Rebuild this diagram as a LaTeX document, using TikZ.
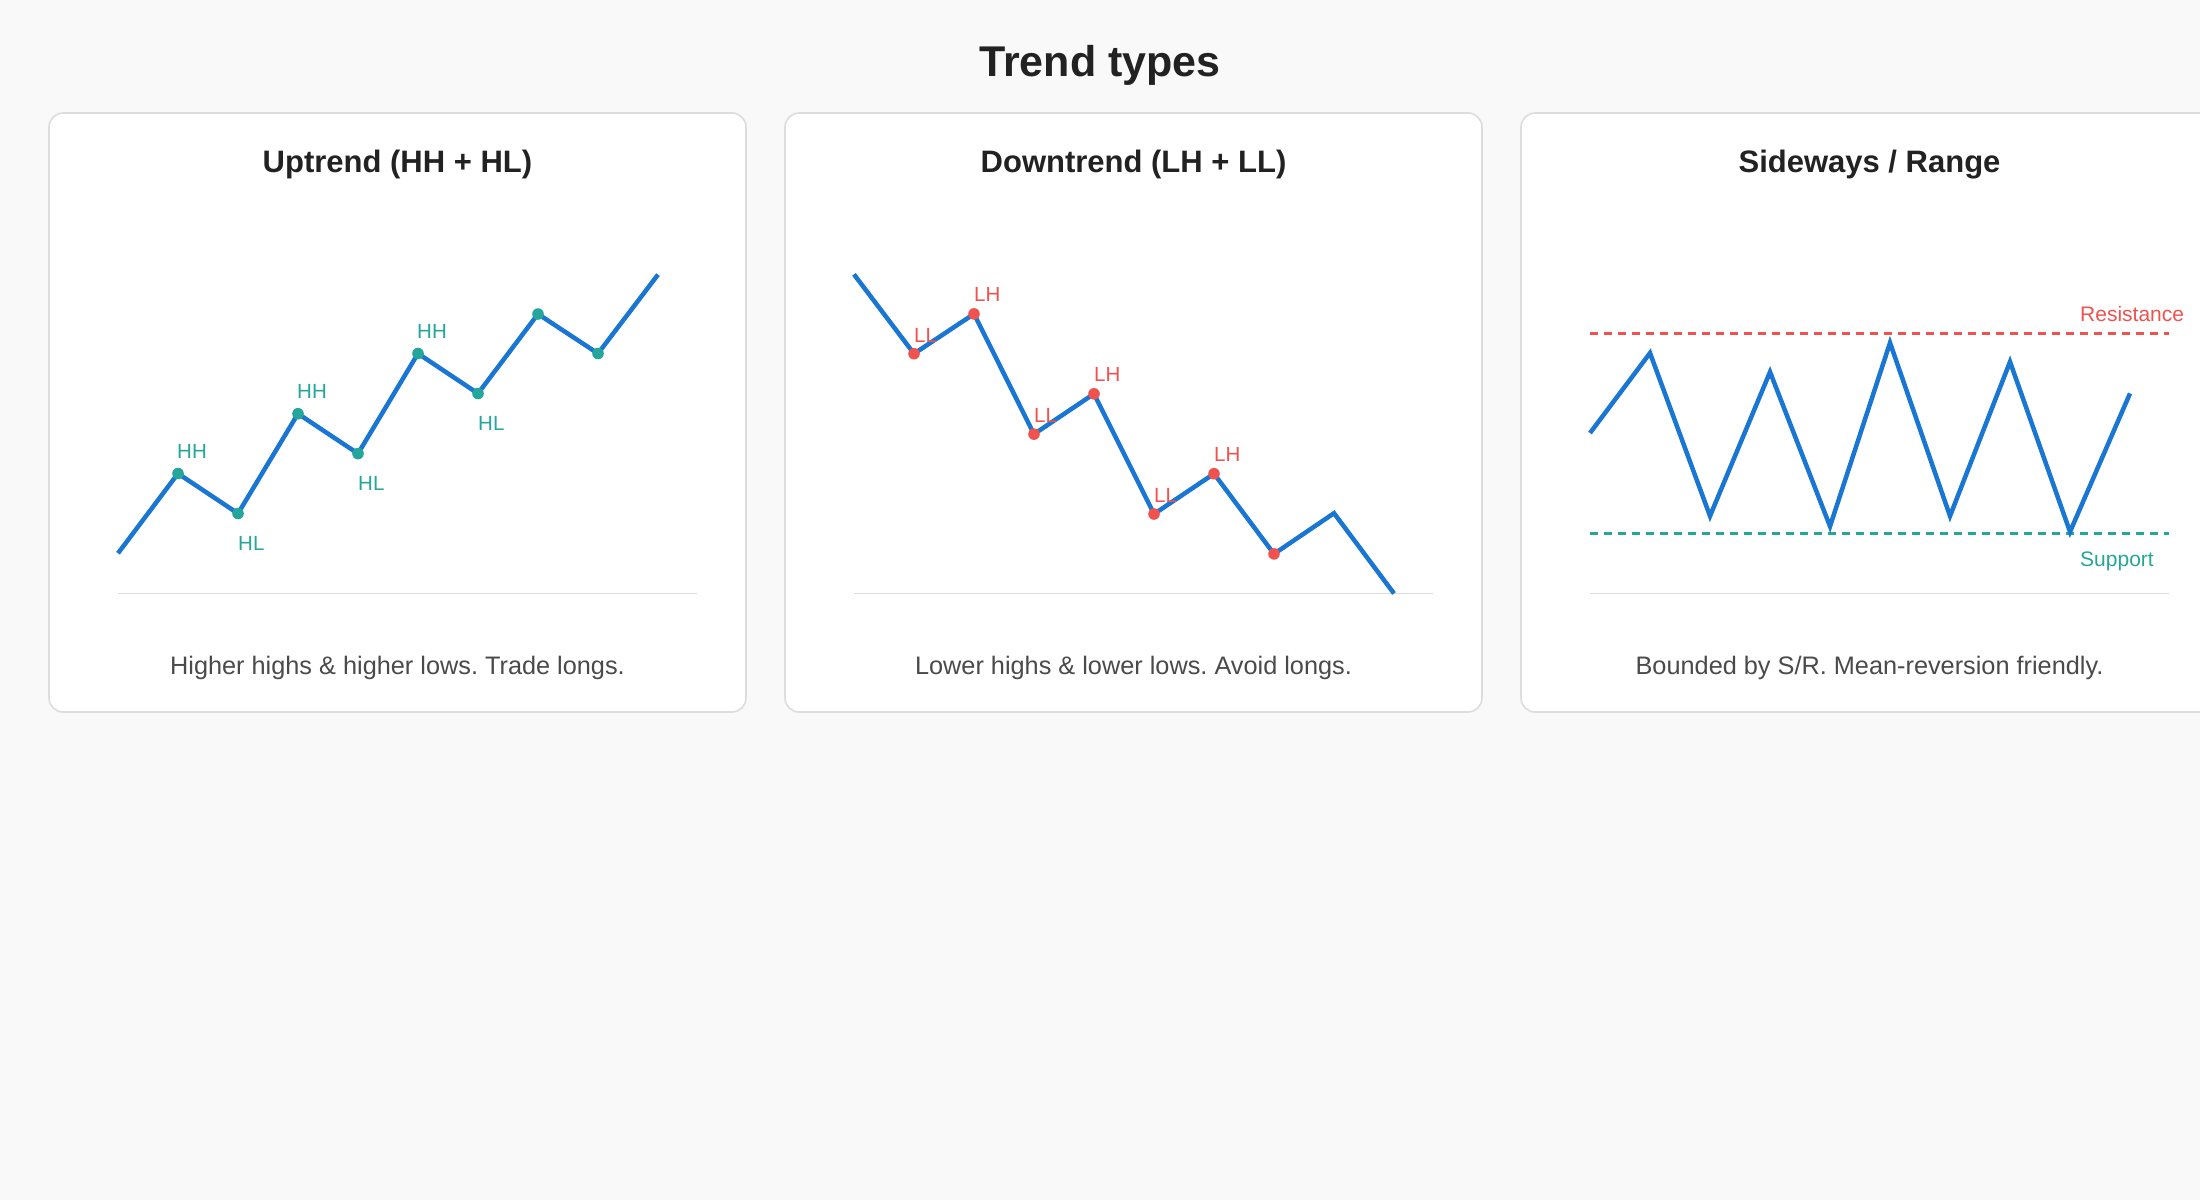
\documentclass[tikz,border=0pt]{standalone}
\usepackage{fontspec}
\setmainfont{Liberation Sans}
\frenchspacing
\definecolor{bgc}{HTML}{F9F9F9}
\definecolor{cardborder}{HTML}{DDDDDD}
\definecolor{lineblue}{HTML}{1976D2}
\definecolor{tealc}{HTML}{26A69A}
\definecolor{redc}{HTML}{EF5350}
\definecolor{titlec}{HTML}{222222}
\definecolor{captc}{HTML}{4A4A4A}
\definecolor{axisc}{HTML}{DDDDDD}
\newcommand{\setfs}[1]{\fontsize{#1}{#1}\selectfont}
\tikzset{
  card/.style={draw=cardborder, line width=1.6pt, fill=white, rounded corners=14pt},
  price/.style={draw=lineblue, line width=4.5pt, line join=miter, miter limit=10},
  axisline/.style={draw=axisc, line width=1.6pt},
  updot/.style={fill=tealc},
  downdot/.style={fill=redc},
  mainttl/.style={inner sep=0pt, anchor=base, text=titlec, font=\setfs{43}\bfseries},
  cardttl/.style={inner sep=0pt, anchor=base, text=titlec, font=\setfs{31}\bfseries},
  caption/.style={inner sep=0pt, anchor=base, text=captc, font=\setfs{25.3}},
  uplbl/.style={inner sep=0pt, anchor=base west, text=tealc, font=\setfs{20.5}},
  downlbl/.style={inner sep=0pt, anchor=base west, text=redc, font=\setfs{20.5}},
  reslbl/.style={inner sep=0pt, anchor=base west, text=redc, font=\setfs{21}},
  suplbl/.style={inner sep=0pt, anchor=base west, text=tealc, font=\setfs{21}},
  resline/.style={draw=redc, line width=3pt, dash pattern=on 8pt off 6pt},
  supline/.style={draw=tealc, line width=3pt, dash pattern=on 8pt off 6pt},
}
\begin{document}
\begin{tikzpicture}[x=1pt,y=-1pt]
\useasboundingbox (0,0) rectangle (2200,1200);
\clip (0,0) rectangle (2200,1200);
\fill[bgc] (0,0) rectangle (2200,1200);

\node[mainttl] (title) at (1100,76) {Trend types};

% ---------------- Card 1: Uptrend ----------------
\begin{scope}[shift={(49,0)}]
  \path[card] (0,113) rectangle (697,712);
  \node[cardttl] (t1) at (348.5,172) {Uptrend (HH + HL)};
  \draw[axisline] (69,593.5) -- (648,593.5);
  \coordinate (u0) at (69,553.3);
  \coordinate (u1) at (129,473.5);
  \coordinate (u2) at (189,513.5);
  \coordinate (u3) at (249,413.7);
  \coordinate (u4) at (309,453.6);
  \coordinate (u5) at (369,353.5);
  \coordinate (u6) at (429,393.5);
  \coordinate (u7) at (489,314);
  \coordinate (u8) at (549,353.5);
  \coordinate (u9) at (609,274.6);
  \draw[price] (u0) -- (u1) -- (u2) -- (u3) -- (u4) -- (u5) -- (u6) -- (u7) -- (u8) -- (u9);
  \foreach \p in {u1,u2,u3,u4,u5,u6,u7,u8} \fill[updot] (\p) circle (5.8);
  \node[uplbl] (hh1) at ([shift={(-1,-15.4)}]u1) {HH};
  \node[uplbl] (hh2) at ([shift={(-1,-15.4)}]u3) {HH};
  \node[uplbl] (hh3) at ([shift={(-1,-15.4)}]u5) {HH};
  \node[uplbl] (hl1) at ([shift={(0,37)}]u2) {HL};
  \node[uplbl] (hl2) at ([shift={(0,37)}]u4) {HL};
  \node[uplbl] (hl3) at ([shift={(0,37)}]u6) {HL};
  \node[caption] (c1) at (348.5,674) {Higher highs \& higher lows. Trade longs.};
\end{scope}

% ---------------- Card 2: Downtrend ----------------
\begin{scope}[shift={(785,0)}]
  \path[card] (0,113) rectangle (697,712);
  \node[cardttl] (t2) at (348.5,172) {Downtrend (LH + LL)};
  \draw[axisline] (69,593.5) -- (648,593.5);
  \coordinate (d0) at (69,274.4);
  \coordinate (d1) at (129,353.7);
  \coordinate (d2) at (189,313.9);
  \coordinate (d3) at (249,434.1);
  \coordinate (d4) at (309,393.8);
  \coordinate (d5) at (369,514);
  \coordinate (d6) at (429,473.7);
  \coordinate (d7) at (489,553.9);
  \coordinate (d8) at (549,513.2);
  \coordinate (d9) at (609,593.5);
  \draw[price] (d0) -- (d1) -- (d2) -- (d3) -- (d4) -- (d5) -- (d6) -- (d7) -- (d8) -- (d9);
  \foreach \p in {d1,d2,d3,d4,d5,d6,d7} \fill[downdot] (\p) circle (5.8);
  \node[downlbl] (ll1) at ([shift={(0,-11.4)}]d1) {LL};
  \node[downlbl] (ll2) at ([shift={(0,-11.4)}]d3) {LL};
  \node[downlbl] (ll3) at ([shift={(0,-11.4)}]d5) {LL};
  \node[downlbl] (lh1) at ([shift={(0,-12)}]d2) {LH};
  \node[downlbl] (lh2) at ([shift={(0,-12)}]d4) {LH};
  \node[downlbl] (lh3) at ([shift={(0,-12)}]d6) {LH};
  \node[caption] (c2) at (348.5,674) {Lower highs \& lower lows. Avoid longs.};
\end{scope}

% ---------------- Card 3: Sideways ----------------
\begin{scope}[shift={(1521,0)}]
  \path[card] (0,113) rectangle (697,712);
  \node[cardttl] (t3) at (348.5,172) {Sideways / Range};
  \draw[axisline] (69,593.5) -- (648,593.5);
  \coordinate (rl) at (69,333.5);
  \coordinate (rr) at (648,333.5);
  \coordinate (sl) at (69,533.5);
  \coordinate (sr) at (648,533.5);
  \draw[resline] (rl) -- (rr);
  \draw[supline] (sl) -- (sr);
  \node[reslbl] (res) at (559,321.5) {Resistance};
  \node[suplbl] (sup) at (559,566.5) {Support};
  \coordinate (s0) at (69,433);
  \coordinate (s1) at (129,353);
  \coordinate (s2) at (189,516);
  \coordinate (s3) at (249,372);
  \coordinate (s4) at (309,526.3);
  \coordinate (s5) at (369,342.8);
  \coordinate (s6) at (429,516);
  \coordinate (s7) at (489,361.8);
  \coordinate (s8) at (549,531.8);
  \coordinate (s9) at (609,393.4);
  \draw[price] (s0) -- (s1) -- (s2) -- (s3) -- (s4) -- (s5) -- (s6) -- (s7) -- (s8) -- (s9);
  \node[caption] (c3) at (348.5,674) {Bounded by S/R. Mean-reversion friendly.};
\end{scope}
\end{tikzpicture}
\end{document}
